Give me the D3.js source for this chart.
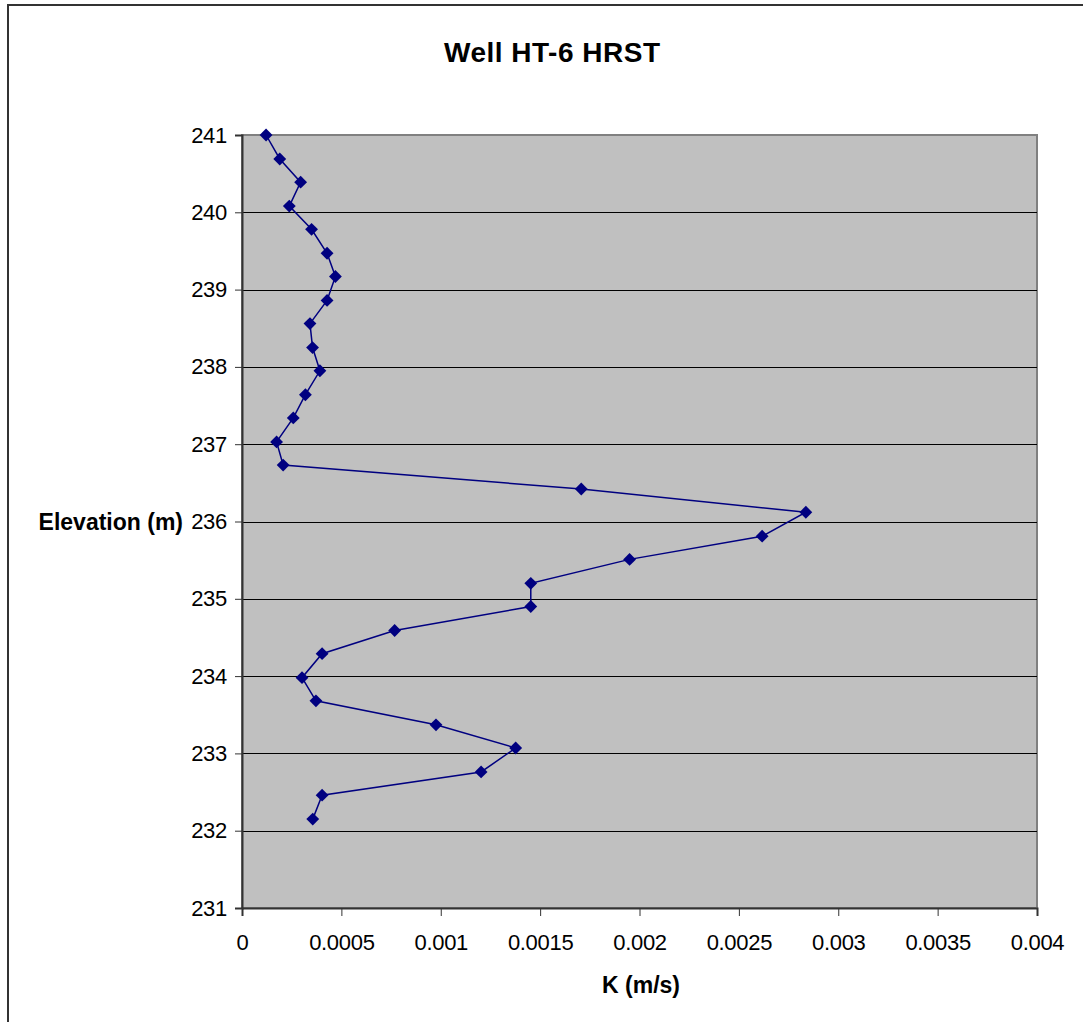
<!DOCTYPE html>
<html>
  <head>
    <meta charset="utf-8">
    <script src="https://d3js.org/d3.v7.min.js"></script>
    <title>Well HT-6 HRST</title>
    <style>
      body {
        margin: 0px;
        background: #ffffff;
      }
      text {
        font-family: 'Liberation Sans', Arial, sans-serif;
        fill: #000000;
      }
      .tick-label {
        font-size: 22px;
        letter-spacing: -0.3px;
      }
      .axis-title {
        font-size: 23px;
        font-weight: bold;
      }
      .title {
        font-size: 28px;
        font-weight: bold;
      }
    </style>
  </head>
  <body>
    <script>
      // values
      const elevation = [241.0, 240.69, 240.39, 240.08, 239.78, 239.47, 239.17, 238.86, 238.56, 238.25,
                         237.95, 237.64, 237.34, 237.03, 236.73, 236.42, 236.12, 235.81, 235.51, 235.2,
                         234.9, 234.59, 234.29, 233.98, 233.68, 233.37, 233.07, 232.76, 232.46, 232.15];
      const conductivity = [0.000121, 0.00019, 0.000295, 0.000238, 0.00035, 0.000428, 0.00047, 0.000428, 0.000342, 0.000355,
                            0.000392, 0.000319, 0.000258, 0.000174, 0.000207, 0.001707, 0.002837, 0.002617, 0.00195, 0.001453,
                            0.001453, 0.000768, 0.000403, 0.000302, 0.000372, 0.000976, 0.001377, 0.001203, 0.000403, 0.000356];
      const xTicks = [0, 0.0005, 0.001, 0.0015, 0.002, 0.0025, 0.003, 0.0035, 0.004];
      const yTicks = [231, 232, 233, 234, 235, 236, 237, 238, 239, 240, 241];
      const data = elevation.map((e, i) => ({ elev: e, k: conductivity[i] }));

      const width = 1083, height = 1022;
      const plot = { left: 242, right: 1037, top: 135, bottom: 908 };

      const svg = d3.select('body').append('svg')
        .attr('width', width)
        .attr('height', height);

      // outer chart border (only left and top visible)
      svg.append('path')
        .attr('d', `M8,${height} L8,5 L${width},5`)
        .attr('fill', 'none')
        .attr('stroke', '#333333')
        .attr('stroke-width', 2);

      const xScale = d3.scaleLinear()
        .domain([0, 0.004])
        .range([plot.left, plot.right]);
      const yScale = d3.scaleLinear()
        .domain([231, 241])
        .range([plot.bottom, plot.top]);

      // plot area
      svg.append('rect')
        .attr('x', plot.left)
        .attr('y', plot.top)
        .attr('width', plot.right - plot.left)
        .attr('height', plot.bottom - plot.top)
        .attr('fill', '#c0c0c0')
        .attr('stroke', '#808080')
        .attr('stroke-width', 2);

      // gridlines
      svg.append('g').selectAll('line')
        .data(yTicks.filter(t => t > 231 && t < 241))
        .enter().append('line')
          .attr('x1', plot.left)
          .attr('x2', plot.right)
          .attr('y1', d => Math.round(yScale(d)) + 0.5)
          .attr('y2', d => Math.round(yScale(d)) + 0.5)
          .attr('stroke', '#000000')
          .attr('stroke-width', 1);

      // axes
      const xAxis = d3.axisBottom(xScale)
        .tickValues(xTicks)
        .tickSize(8)
        .tickPadding(12)
        .tickFormat(d => d === 0 ? '0' : String(+d.toFixed(4)));
      const yAxis = d3.axisLeft(yScale)
        .tickValues(yTicks)
        .tickSize(7)
        .tickPadding(8)
        .tickFormat(d3.format('d'));

      const xAxisG = svg.append('g')
        .attr('transform', `translate(0,${plot.bottom})`)
        .call(xAxis);
      const yAxisG = svg.append('g')
        .attr('transform', `translate(${plot.left},0)`)
        .call(yAxis);

      [xAxisG, yAxisG].forEach(g => {
        g.select('.domain').attr('stroke', '#333333').attr('stroke-width', 2);
        g.selectAll('.tick line').attr('stroke', '#333333');
        g.selectAll('.tick text')
          .attr('class', 'tick-label')
          .attr('font-family', null)
          .attr('font-size', null)
          .attr('fill', '#000000');
      });
      xAxisG.selectAll('.tick text').attr('dy', '1.0em');

      // series
      const line = d3.line()
        .x(d => xScale(d.k))
        .y(d => yScale(d.elev));

      svg.append('path')
        .datum(data)
        .attr('d', line)
        .attr('fill', 'none')
        .attr('stroke', '#000080')
        .attr('stroke-width', 1.5);

      const diamond = d3.symbol().type(d3.symbolDiamond2 || d3.symbolDiamond).size(105);
      svg.append('g').selectAll('path')
        .data(data)
        .enter().append('path')
          .attr('d', diamond)
          .attr('transform', d => `translate(${xScale(d.k)},${yScale(d.elev)})`)
          .attr('fill', '#000080');

      // titles
      svg.append('text')
        .attr('class', 'title')
        .attr('x', 552)
        .attr('y', 62)
        .attr('text-anchor', 'middle')
        .attr('textLength', 216)
        .attr('lengthAdjust', 'spacing')
        .text('Well HT-6 HRST');

      svg.append('text')
        .attr('class', 'axis-title')
        .attr('x', 641)
        .attr('y', 993)
        .attr('text-anchor', 'middle')
        .text('K (m/s)');

      svg.append('text')
        .attr('class', 'axis-title')
        .attr('x', 183)
        .attr('y', yScale(236))
        .attr('dy', '0.35em')
        .attr('text-anchor', 'end')
        .text('Elevation (m)');
    </script>
  </body>
</html>
